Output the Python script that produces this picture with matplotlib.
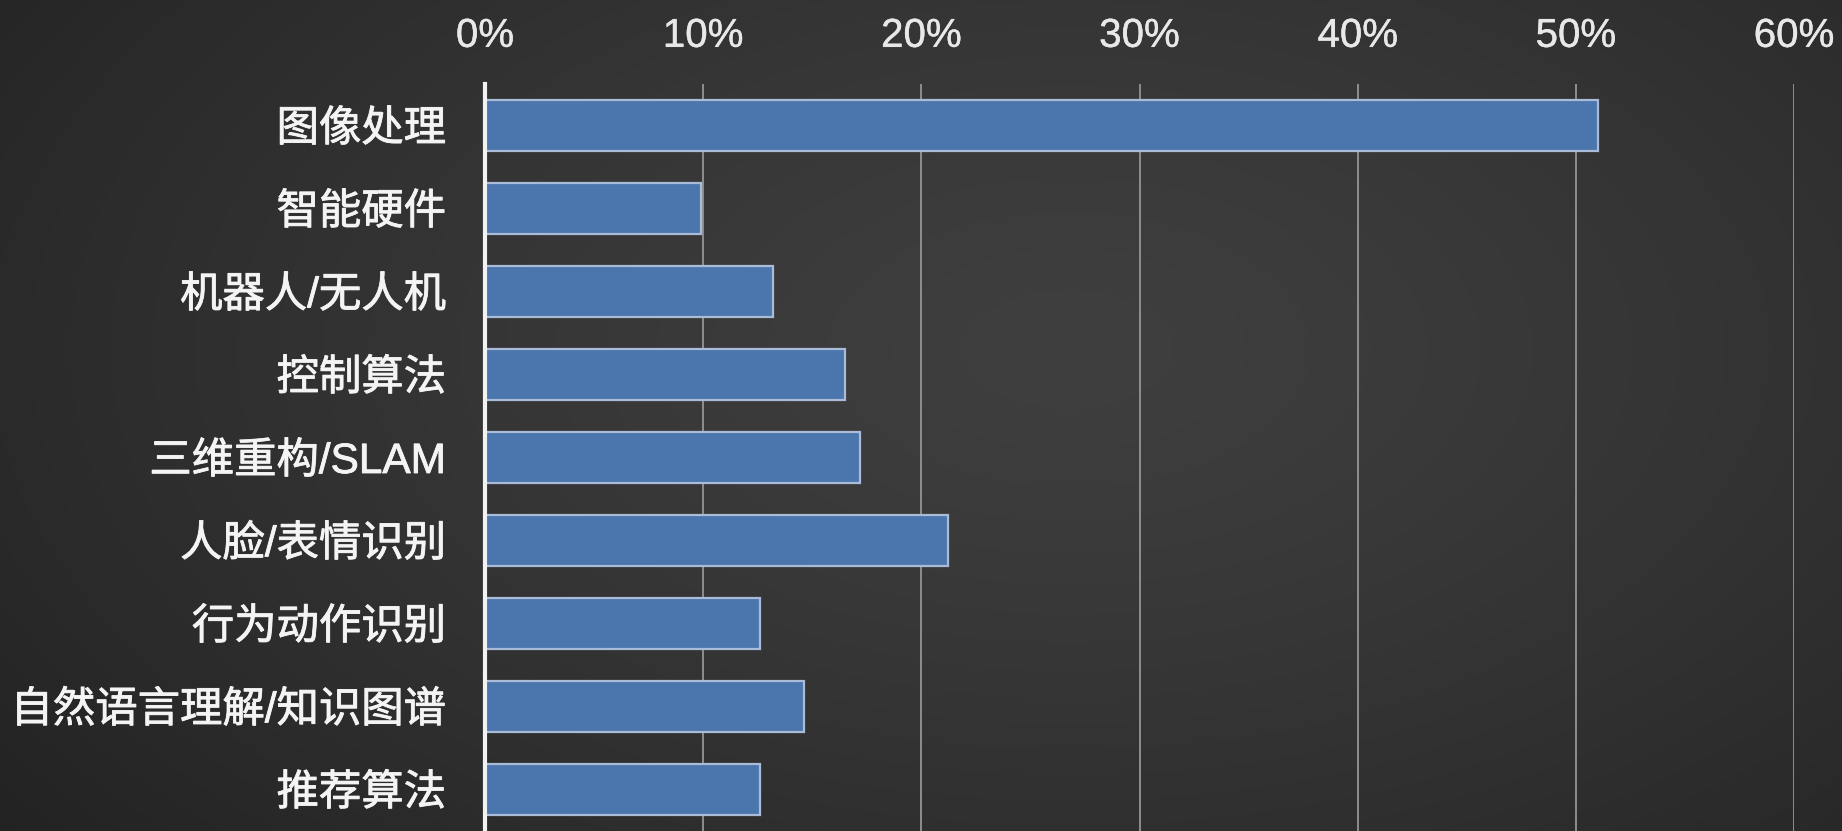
import numpy as np
import matplotlib
matplotlib.use("Agg")
import matplotlib.pyplot as plt
import matplotlib.patheffects as pe
from matplotlib.ticker import FixedLocator

# Research directions and the share of respondents for each (percent)
categories = ["图像处理", "智能硬件", "机器人/无人机", "控制算法", "三维重构/SLAM",
              "人脸/表情识别", "行为动作识别", "自然语言理解/知识图谱", "推荐算法"]
shares = [51.0, 9.9, 13.2, 16.5, 17.2, 21.2, 12.6, 14.6, 12.6]
x_ticks = [0, 10, 20, 30, 40, 50, 60]
x_tick_labels = ["0%", "10%", "20%", "30%", "40%", "50%", "60%"]

W, H = 1842, 831
fig = plt.figure(figsize=(W / 100, H / 100), dpi=100)

# Dark radial-gradient backdrop
bg = fig.add_axes([0, 0, 1, 1], zorder=-10)
yy, xx = np.mgrid[0:H, 0:W]
cx, cy = 0.58 * W, 0.42 * H
r = np.sqrt(((xx - cx) / (0.75 * W)) ** 2 + ((yy - cy) / (0.95 * H)) ** 2)
r = np.clip(r, 0, 1)
inner, outer = 0x3f, 0x22
shade = (inner + (outer - inner) * r ** 1.3) / 255.0
bg.imshow(np.dstack([shade, shade, shade]), aspect="auto", interpolation="bilinear")
bg.set_axis_off()

left, right = 485 / W, 1794 / W
top = 84 / H
ax = fig.add_axes([left, 0, right - left, 1 - top])
ax.patch.set_alpha(0)

y = np.arange(len(categories))
ax.barh(y, shares, height=0.61, color="#4a75ad", edgecolor="#a9bbd6",
        linewidth=1.6, zorder=3)

ax.set_xlim(0, 60)
ax.set_ylim(len(categories) - 0.5, -0.5)

ax.xaxis.set_major_locator(FixedLocator(x_ticks))
ax.xaxis.tick_top()
ax.set_xticklabels(x_tick_labels, fontsize=29, color="#e8e8e8",
                   family=["Liberation Sans", "DejaVu Sans"])
for lbl in ax.get_xticklabels():
    lbl.set_path_effects([pe.withStroke(linewidth=0.3, foreground="#e8e8e8")])
ax.tick_params(axis="x", length=0, pad=21)

# Category labels: regular weight, thickened slightly with a same-colour stroke
label_color = "#f4f4f4"
ax.set_yticks(y)
ax.set_yticklabels(categories, fontsize=30.5, color=label_color,
                   family=["Liberation Sans", "Noto Sans CJK SC"])
for lbl in ax.get_yticklabels():
    lbl.set_path_effects([pe.withStroke(linewidth=0.6, foreground=label_color)])
ax.tick_params(axis="y", length=0, pad=28)

ax.grid(axis="x", color="#959595", linewidth=1.3, zorder=1)
ax.grid(axis="y", visible=False)

for side in ["top", "right", "bottom"]:
    ax.spines[side].set_visible(False)
ax.spines["left"].set_color("#f2f2f2")
ax.spines["left"].set_linewidth(3)
ax.spines["left"].set_zorder(5)

fig.savefig("out.png", dpi=100)
